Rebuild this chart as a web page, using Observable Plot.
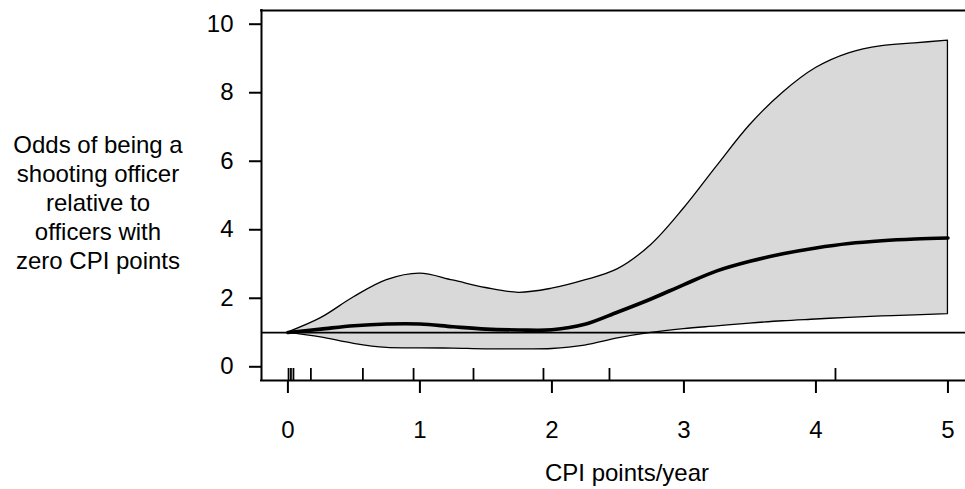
<!DOCTYPE html>
<html>
<head>
<meta charset="utf-8">
<script src="https://cdn.jsdelivr.net/npm/d3@7"></script>
<script src="https://cdn.jsdelivr.net/npm/@observablehq/plot@0.6"></script>
<style>
  html, body { margin: 0; padding: 0; background: #fff; overflow: hidden; }
  svg { display: block; }
</style>
</head>
<body>
<div id="chart"></div>
<script>
// CPI points/year grid
const cpi = [0, 0.25, 0.5, 0.75, 1, 1.25, 1.5, 1.75, 2, 2.25, 2.5, 2.75, 3, 3.25, 3.5, 3.75, 4, 4.25, 4.5, 4.75, 5];
// Estimated odds ratio
const estimate = [1.0, 1.10, 1.20, 1.25, 1.25, 1.17, 1.10, 1.075, 1.08, 1.24, 1.60, 1.98, 2.40, 2.80, 3.08, 3.30, 3.47, 3.60, 3.68, 3.73, 3.76];
// Lower confidence bound
const lower = [1.0, 0.86, 0.67, 0.55, 0.54, 0.53, 0.51, 0.51, 0.52, 0.62, 0.83, 0.99, 1.10, 1.18, 1.26, 1.33, 1.38, 1.43, 1.47, 1.50, 1.54];
// Upper confidence bound
const upper = [1.0, 1.42, 2.03, 2.53, 2.72, 2.52, 2.30, 2.16, 2.28, 2.52, 2.85, 3.55, 4.62, 5.85, 7.05, 8.00, 8.72, 9.15, 9.36, 9.44, 9.52];
// Rug of observed CPI rates
const rug = [0.005, 0.023, 0.042, 0.174, 0.568, 0.952, 1.406, 1.936, 2.436, 4.148];
// Reference line (odds ratio = 1)
const reference = [1];
// Axis ticks and text
const xTicks = [0, 1, 2, 3, 4, 5];
const yTicks = [0, 2, 4, 6, 8, 10];
const xTitle = "CPI points/year";
const yTitleLines = ["Odds of being a", "shooting officer", "relative to", "officers with", "zero CPI points"];

const xDomain = [-0.2, 5.133];
const yDomain = [-0.4, 10.4];

const data = cpi.map((x, i) => ({x, est: estimate[i], lo: lower[i], hi: upper[i]}));

const font = "'Liberation Sans', Arial, Helvetica, sans-serif";
const fmt = d => String(d);

const svg = Plot.plot({
  width: 965,
  height: 489,
  marginLeft: 261,
  marginRight: 0,
  marginTop: 10,
  marginBottom: 109,
  style: {fontFamily: font, fontSize: "24px", background: "#fff", color: "#000", overflow: "visible"},
  x: {domain: xDomain},
  y: {domain: yDomain},
  marks: [
    Plot.areaY(data, {x: "x", y1: "lo", y2: "hi", fill: "#d9d9d9", stroke: "#000", strokeWidth: 1.3, curve: "catmull-rom"}),
    Plot.ruleY(reference, {stroke: "#000", strokeWidth: 1.7}),
    Plot.lineY(data, {x: "x", y: "est", stroke: "#000", strokeWidth: 3.6, curve: "catmull-rom"}),
    Plot.tickX(rug, {x: d => d, stroke: "#000", strokeWidth: 1.8, insetTop: 358}),
    Plot.ruleX([xDomain[0]], {stroke: "#000", strokeWidth: 2, strokeLinecap: "square"}),
    Plot.ruleY([yDomain[0], yDomain[1]], {stroke: "#000", strokeWidth: 2, strokeLinecap: "square"}),
    Plot.axisY(yTicks, {anchor: "left", tickSize: 12, tickPadding: 16, strokeWidth: 2, fontSize: 24, label: null, tickFormat: fmt}),
    Plot.axisX(xTicks, {anchor: "bottom", tickSize: 13, tickPadding: 27, strokeWidth: 2, fontSize: 24, label: null, tickFormat: fmt})
  ]
});

const s = d3.select(svg);
const g = s.append("g").attr("font-family", font).attr("font-size", 24).attr("fill", "#000").attr("text-anchor", "middle");
g.append("text").attr("x", 627).attr("y", 481).text(xTitle);
yTitleLines.forEach((t, i) => {
  g.append("text").attr("x", 98).attr("y", 153 + 29 * i).text(t);
});

document.getElementById("chart").appendChild(svg);
</script>
</body>
</html>
